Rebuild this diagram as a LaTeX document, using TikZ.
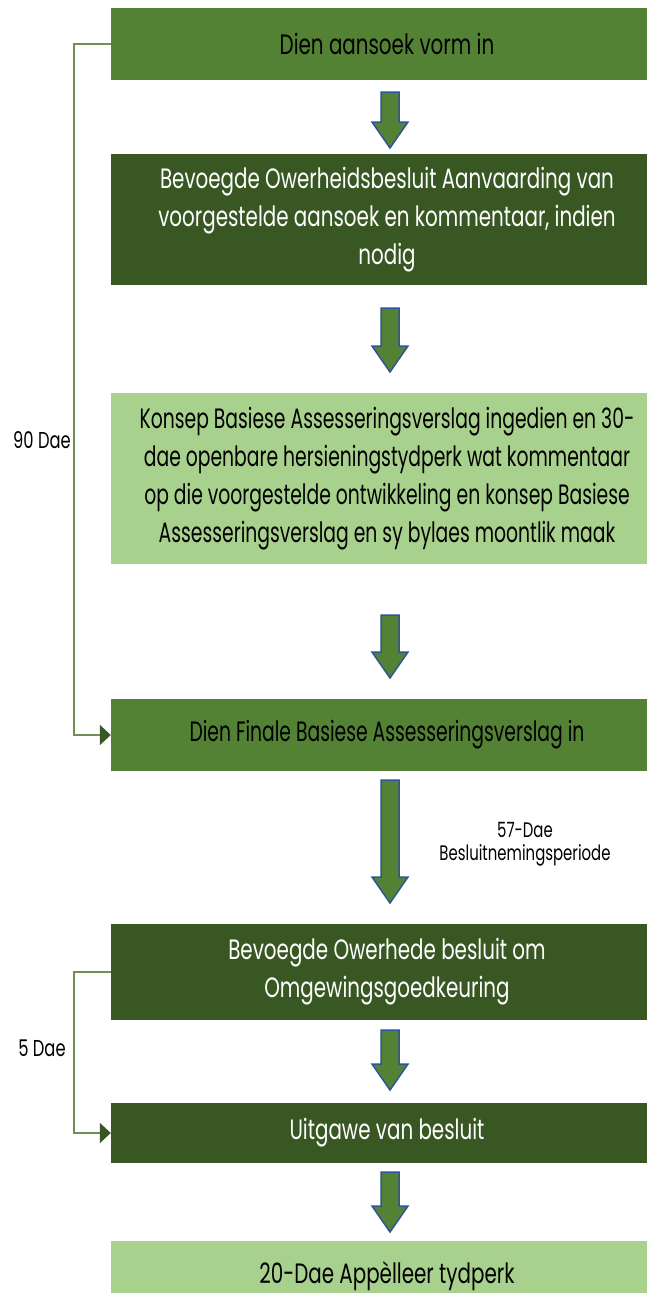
\documentclass[tikz,border=0pt]{standalone}
\usepackage{fontspec}
\setmainfont{Poppins}[FakeStretch=0.71]
\newfontfamily\narrowpop{Poppins}[FakeStretch=0.67]
\usetikzlibrary{arrows.meta}
\definecolor{midg}{HTML}{548235}
\definecolor{darkg}{HTML}{385723}
\definecolor{lightg}{HTML}{A9D18E}
\definecolor{arrowblue}{HTML}{2F5597}
\definecolor{linkg}{HTML}{6F8F5A}
\tikzset{
  box/.style={rectangle, inner sep=0pt, minimum width=552pt, align=center,
    font=\fontsize{28}{38}\selectfont},
  narrowbox/.style={font=\narrowpop\fontsize{28}{38}\selectfont},
  boxmid/.style={box, fill=midg, text=black},
  boxdark/.style={box, fill=darkg, text=white},
  boxlight/.style={box, fill=lightg, text=black},
  blockarrow/.style={fill=midg, draw=arrowblue, line width=1.5pt, line join=miter},
  bracket/.style={draw=linkg, line width=1.6pt, -{Triangle[length=11pt,width=20pt,color=darkg]}},
  lbl/.style={font=\fontsize{23}{26}\selectfont, text=black, inner sep=0pt},
  smalllbl/.style={font=\fontsize{21}{23}\selectfont, text=black, inner sep=0pt, align=center}
}
\newcommand{\barrow}[3]{%
  \filldraw[blockarrow] (381,-#1) -- (399,-#1) -- (399,-#2) -- (408,-#2) -- (390,-#3) -- (372,-#2) -- (381,-#2) -- cycle;}
\begin{document}
\begin{tikzpicture}[x=1pt,y=1pt]
\useasboundingbox (0,0) rectangle (647,-1293);
\fill[white] (0,0) rectangle (647,-1293);
\clip (0,0) rectangle (647,-1293);

\node[boxmid, minimum height=72pt] (b1) at (387,-44) {Dien aansoek vorm in};
\node[boxdark, minimum height=131pt] (b2) at (387,-219.5) {Bevoegde Owerheidsbesluit Aanvaarding van\\voorgestelde aansoek en kommentaar, indien\\nodig};
\node[boxlight, narrowbox, minimum height=171pt] (b3) at (387,-478.5) {Konsep Basiese Assesseringsverslag ingedien en 30-\\dae openbare hersieningstydperk wat kommentaar\\op die voorgestelde ontwikkeling en konsep Basiese\\Assesseringsverslag en sy bylaes moontlik maak};
\node[boxmid, narrowbox, minimum height=72pt] (b4) at (387,-735) {Dien Finale Basiese Assesseringsverslag in};
\node[boxdark, minimum height=96pt] (b5) at (387,-972) {Bevoegde Owerhede besluit om\\Omgewingsgoedkeuring};
\node[boxdark, minimum height=60pt] (b6) at (387,-1133) {Uitgawe van besluit};
\node[boxlight, minimum height=70pt] (b7) at (387,-1276) {20-Dae App\`elleer tydperk};

\barrow{92}{122}{148}
\barrow{308}{346}{372}
\barrow{615}{652}{678}
\barrow{780}{877}{903}
\barrow{1030}{1064}{1090}
\barrow{1172}{1206}{1232}

\coordinate (k1) at (74,-400);
\coordinate (k2) at (74,-1050);
\draw[bracket] (b1.west) -| (k1) |- (b4.west);
\draw[bracket] (b5.west) -| (k2) |- (b6.west);

\node[lbl] (l90) at (42,-440) {90 Dae};
\node[lbl] (l5) at (42,-1048) {5 Dae};
\node[smalllbl] (l57) at (525,-844) {57-Dae\\Besluitnemingsperiode};
\end{tikzpicture}
\end{document}
